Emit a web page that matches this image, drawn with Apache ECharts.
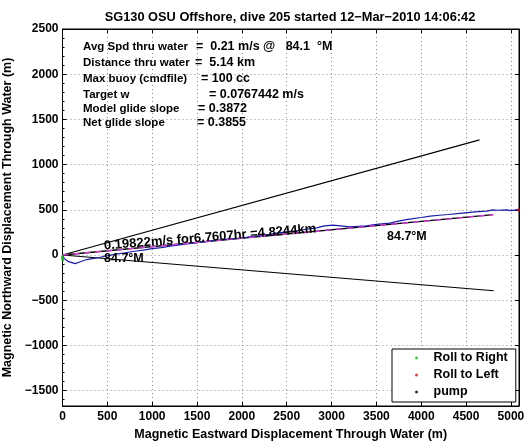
<!DOCTYPE html>
<html><head><meta charset="utf-8">
<script src="https://cdn.jsdelivr.net/npm/echarts@6/dist/echarts.min.js"></script>
<style>html,body{margin:0;padding:0;background:#fff}#c{width:532px;height:442px}</style>
</head><body><div id="c"></div>
<script>
// ---------- data ----------
const titleText = 'SG130 OSU Offshore, dive 205 started 12\u2212Mar\u22122010 14:06:42';
const xName = 'Magnetic Eastward Displacement Through Water (m)';
const yName = 'Magnetic Northward Displacement Through Water (m)';
const xRange = [0, 5090];
const yRange = [-1670, 2500];

const fanUpper = [[0, 0], [4650, 1273]];
const fanLower = [[0, 0], [4808, -395]];
const headingLine = [[0, 0], [4803, 446]];
const trackX = [0, 20, 60, 140, 200, 270, 350, 420, 500, 600, 700, 800, 900, 1000, 1100, 1200, 1345, 1450, 1550, 1650, 1750, 1850, 2010, 2100, 2200, 2300, 2390, 2500, 2600, 2700, 2835, 2920, 3015, 3100, 3200, 3300, 3390, 3500, 3650, 3760, 3850, 4000, 4100, 4200, 4300, 4460, 4600, 4730, 4800, 4850, 4950, 5000, 5090];
const trackY = [0, -40, -70, -95, -75, -50, -38, -25, -8, 10, 25, 42, 55, 70, 82, 98, 118, 132, 142, 158, 165, 176, 188, 205, 215, 228, 243, 256, 266, 282, 300, 322, 330, 322, 312, 318, 322, 338, 353, 378, 395, 415, 430, 440, 448, 464, 478, 486, 500, 495, 500, 492, 505];
const rollRight = [[0, -15], [0, -35], [4, -55]];
const rollLeft = [[5085, 500]];
const pump = [];

const infoLabels = ['Avg Spd thru water', 'Distance thru water', 'Max buoy (cmdfile)', 'Target w', 'Model glide slope', 'Net glide slope'];
const infoValues = ['=  0.21 m/s @   84.1  \u00b0M', '=  5.14 km', '= 100 cc', '= 0.0767442 m/s', '= 0.3872', '= 0.3855'];
const lineNote = '0.19822m/s for6.7607hr =4.8244km';
const headingNote = '84.7\u00b0M';

// ---------- chart ----------
const FONT = '"Liberation Sans", Arial, Helvetica, sans-serif';
const track = trackX.map((x, i) => [x, trackY[i]]);
const fmt = v => (v < 0 ? '\u2212' + Math.abs(v) : String(v));

const infoY = [46.5, 63, 79, 94.5, 108.5, 123];
const valX = [196, 195, 201, 209, 198, 197];
const graphics = [];
infoLabels.forEach((t, i) => {
  graphics.push({type: 'text', x: 83, y: infoY[i], z: 50,
    style: {text: t, font: 'bold 11.5px ' + FONT, fill: '#000', verticalAlign: 'middle'}});
  graphics.push({type: 'text', x: valX[i], y: infoY[i], z: 50,
    style: {text: infoValues[i], font: 'bold 12.5px ' + FONT, fill: '#000', verticalAlign: 'middle'}});
});
graphics.push({type: 'text', x: 104, y: 246, rotation: 0.081, z: 50,
  style: {text: lineNote, font: 'bold 13px ' + FONT, fill: '#000', verticalAlign: 'middle', align: 'left'}});
graphics.push({type: 'text', x: 104, y: 259, z: 50,
  style: {text: headingNote, font: 'bold 12.5px ' + FONT, fill: '#000', verticalAlign: 'middle', align: 'left'}});
graphics.push({type: 'text', x: 387, y: 237, z: 50,
  style: {text: headingNote, font: 'bold 12.5px ' + FONT, fill: '#000', verticalAlign: 'middle', align: 'left'}});

const labStyle = {color: '#000', fontWeight: 'bold', fontSize: 12, fontFamily: FONT};
const nameStyle = {color: '#000', fontWeight: 'bold', fontSize: 12.5, fontFamily: FONT};
const gridLine = {show: true, lineStyle: {color: '#8a8a8a', width: 1, type: [1, 3]}};

const chart = echarts.init(document.getElementById('c'), null, {renderer: 'canvas'});
chart.setOption({
  animation: false,
  backgroundColor: '#fff',
  title: {text: titleText, left: 285, top: 6, textAlign: 'center',
    textStyle: {fontSize: 12.8, fontWeight: 'bold', fontFamily: FONT, color: '#000'}},
  grid: {left: 62.5, right: 13, top: 29, bottom: 36, show: true, borderColor: '#000', borderWidth: 1,
    backgroundColor: 'transparent', containLabel: false, outerBoundsMode: 'none'},
  legend: {
    data: ['Roll to Right', 'Roll to Left', 'pump'],
    orient: 'vertical', left: 392, top: 349,
    backgroundColor: '#fff', borderColor: '#000', borderWidth: 1, borderRadius: 0,
    padding: [1, 8, 2, 23], itemGap: 1, itemWidth: 24, itemHeight: 3,
    icon: 'circle',
    textStyle: {fontSize: 12.5, fontWeight: 'bold', fontFamily: FONT, color: '#000', lineHeight: 16}
  },
  xAxis: [{
    type: 'value', min: xRange[0], max: xRange[1], interval: 500,
    name: xName, nameLocation: 'middle', nameGap: 18,
    nameTextStyle: nameStyle,
    axisLine: {show: true, onZero: false, lineStyle: {color: '#000'}},
    axisTick: {show: true, inside: true, length: 4, lineStyle: {color: '#000'}},
    axisLabel: Object.assign({margin: 5, showMaxLabel: false, formatter: fmt}, labStyle),
    splitLine: gridLine
  }, {
    type: 'value', position: 'top', min: xRange[0], max: xRange[1], interval: 500,
    axisLine: {show: true, onZero: false, lineStyle: {color: '#000'}},
    axisTick: {show: true, inside: true, length: 4, lineStyle: {color: '#000'}},
    axisLabel: {show: false}, splitLine: {show: false}
  }],
  yAxis: [{
    type: 'value', min: yRange[0], max: yRange[1], splitNumber: 8,
    name: yName, nameLocation: 'middle', nameGap: 43,
    nameTextStyle: nameStyle,
    axisLine: {show: true, onZero: false, lineStyle: {color: '#000'}},
    axisTick: {show: true, inside: true, length: 4, lineStyle: {color: '#000'}},
    minorTick: {show: true, splitNumber: 5, length: 2, lineStyle: {color: '#000'}},
    axisLabel: Object.assign({margin: 4, showMinLabel: false, formatter: fmt}, labStyle),
    splitLine: gridLine
  }, {
    type: 'value', position: 'right', min: yRange[0], max: yRange[1], splitNumber: 8,
    axisLine: {show: true, onZero: false, lineStyle: {color: '#000'}},
    axisTick: {show: true, inside: true, length: 4, lineStyle: {color: '#000'}},
    axisLabel: {show: false}, splitLine: {show: false}
  }],
  graphic: graphics,
  series: [
    {name: 'upper', type: 'line', data: fanUpper, symbol: 'none', lineStyle: {color: '#000', width: 1.2}, z: 3},
    {name: 'lower', type: 'line', data: fanLower, symbol: 'none', lineStyle: {color: '#000', width: 1.2}, z: 3},
    {name: 'heading', type: 'line', data: headingLine, symbol: 'none', lineStyle: {color: '#000', width: 1.3}, z: 3},
    {name: 'track', type: 'line', data: track, symbol: 'none', lineStyle: {color: '#1a1aa6', width: 1.2}, z: 4},
    {name: 'fit', type: 'line', data: headingLine, symbol: 'none', lineStyle: {color: '#d23ed2', width: 1.4, type: [6, 5]}, z: 5},
    {name: 'Roll to Right', type: 'scatter', data: rollRight, symbol: 'circle', symbolSize: 3, itemStyle: {color: '#22b022'}, z: 6},
    {name: 'Roll to Left', type: 'scatter', data: rollLeft, symbol: 'circle', symbolSize: 3, itemStyle: {color: '#c01818'}, z: 6},
    {name: 'pump', type: 'scatter', data: pump, symbol: 'circle', symbolSize: 3, itemStyle: {color: '#000'}, z: 6}
  ]
});
</script></body></html>
